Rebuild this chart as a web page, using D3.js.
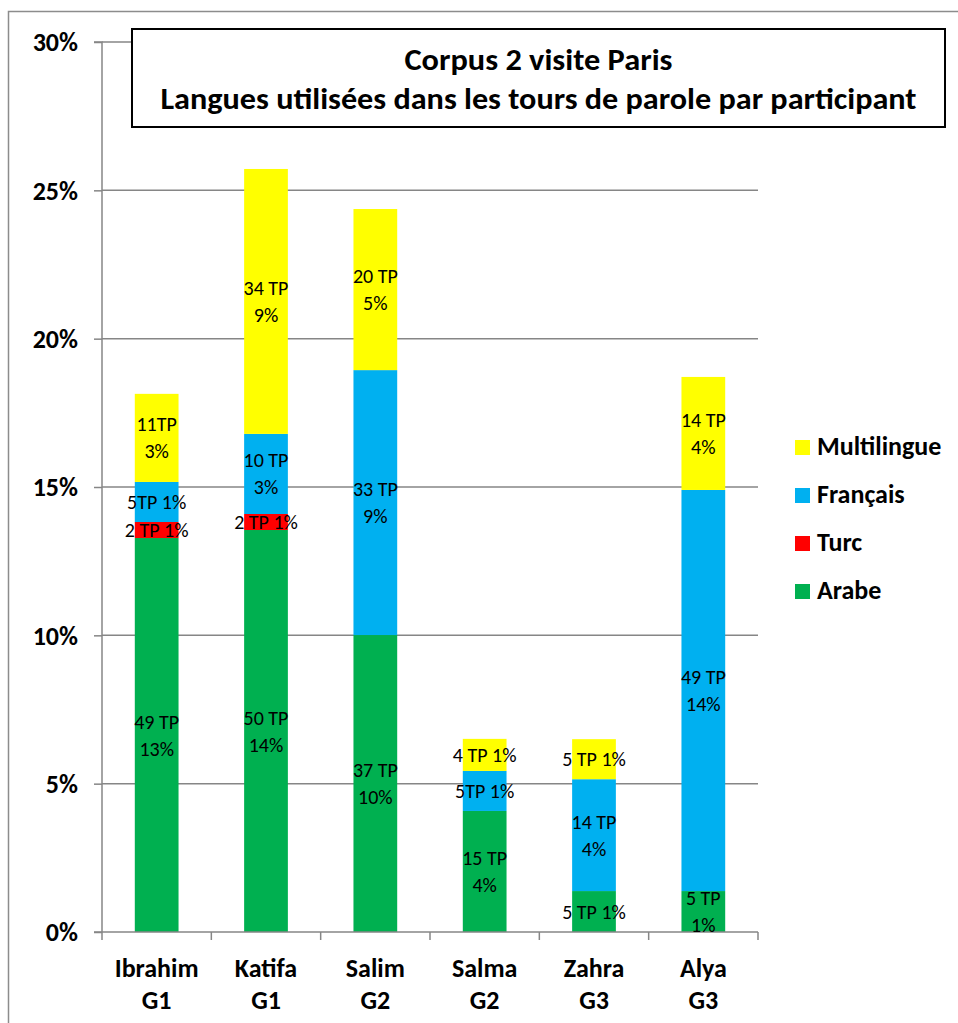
<!DOCTYPE html>
<html>
<head>
<meta charset="utf-8">
<script src="https://cdn.jsdelivr.net/npm/d3@7"></script>
<style>
  html, body { margin: 0; padding: 0; background: #fff; }
  svg { display: block; }
  text { font-family: Carlito, Calibri, "Liberation Sans", Arial, sans-serif; }
</style>
</head>
<body>
<svg id="chart" width="958" height="1023"></svg>
<script>
// Participants and their group, shown as two-line category labels
const participants = ["Ibrahim", "Katifa", "Salim", "Salma", "Zahra", "Alya"];
const groups = ["G1", "G1", "G2", "G2", "G3", "G3"];

// Share of the corpus' speaking turns (%), per language
const arabe       = [13.28, 13.55, 10.01, 4.08, 1.38, 1.38];
const turc        = [0.54, 0.54, 0, 0, 0, 0];
const francais    = [1.35, 2.70, 8.93, 1.35, 3.77, 13.52];
const multilingue = [2.97, 8.93, 5.43, 1.08, 1.35, 3.81];

// Segment labels (turn count and rounded share); "\n" splits a label over two lines
const arabeLabels       = ["49 TP\n13%", "50 TP\n14%", "37 TP\n10%", "15 TP\n4%", "5 TP 1%", "5 TP\n1%"];
const turcLabels        = ["2 TP 1%", "2 TP 1%", "", "", "", ""];
const francaisLabels    = ["5TP 1%", "10 TP\n3%", "33 TP\n9%", "5TP 1%", "14 TP\n4%", "49 TP\n14%"];
const multilingueLabels = ["11TP\n3%", "34 TP\n9%", "20 TP\n5%", "4 TP 1%", "5 TP 1%", "14 TP\n4%"];

const yTicks = [0, 5, 10, 15, 20, 25, 30];

const titleLines = ["Corpus 2 visite Paris", "Langues utilisées dans les tours de parole par participant"];

const series = [
  { key: "Arabe",       values: arabe,       labels: arabeLabels,       color: "#00B050" },
  { key: "Turc",        values: turc,        labels: turcLabels,        color: "#FF0000" },
  { key: "Français",    values: francais,    labels: francaisLabels,    color: "#00B0F0" },
  { key: "Multilingue", values: multilingue, labels: multilingueLabels, color: "#FFFF00" }
];

const rows = participants.map((p, i) => {
  const r = { name: p };
  series.forEach(s => { r[s.key] = s.values[i]; });
  return r;
});

const svg = d3.select("#chart");

// Outer chart frame
svg.append("rect")
  .attr("x", 8.5).attr("y", 11.5)
  .attr("width", 1000).attr("height", 1050)
  .attr("fill", "none").attr("stroke", "#8c8c8c").attr("stroke-width", 1.5);

const plot = { left: 102, right: 758, top: 42, bottom: 932 };

const x = d3.scaleBand().domain(participants).range([plot.left, plot.right]).padding(0);
const y = d3.scaleLinear().domain([0, 30]).range([plot.bottom, plot.top]);
const barW = x.bandwidth() * 0.4;

// Horizontal gridlines
svg.append("g")
  .selectAll("line")
  .data(yTicks.filter(t => t > 0))
  .join("line")
  .attr("x1", plot.left).attr("x2", plot.right)
  .attr("y1", d => y(d)).attr("y2", d => y(d))
  .attr("stroke", "#868686").attr("stroke-width", 1.5);

// Stacked bars
const stacked = d3.stack().keys(series.map(s => s.key))(rows);

const layers = svg.append("g")
  .selectAll("g")
  .data(stacked)
  .join("g")
  .attr("fill", (d, i) => series[i].color);

layers.selectAll("rect")
  .data(d => d)
  .join("rect")
  .attr("x", d => x(d.data.name) + (x.bandwidth() - barW) / 2)
  .attr("width", barW)
  .attr("y", d => y(d[1]))
  .attr("height", d => y(d[0]) - y(d[1]));

// Y axis
const yAxis = d3.axisLeft(y).tickValues(yTicks).tickFormat(d => d + "%").tickSize(8).tickPadding(16);
const gy = svg.append("g").attr("transform", `translate(${plot.left},0)`).call(yAxis);
gy.select(".domain").attr("stroke", "#868686").attr("stroke-width", 1.5).attr("d", `M-8,${plot.top}H0V${plot.bottom}`);
gy.selectAll(".tick line").attr("stroke", "#868686").attr("stroke-width", 1.5);
gy.selectAll(".tick text")
  .attr("fill", "#000")
  .style("font-family", "Carlito, Calibri, 'Liberation Sans', Arial, sans-serif")
  .style("font-size", "26px").style("font-weight", "bold")
  .attr("dy", "0.34em");

// X axis with tick marks at the category boundaries
const gx = svg.append("g").attr("transform", `translate(0,${plot.bottom})`);
gx.append("line")
  .attr("x1", plot.left - 8).attr("x2", plot.right)
  .attr("y1", 0).attr("y2", 0)
  .attr("stroke", "#868686").attr("stroke-width", 1.5);
gx.selectAll("line.tk")
  .data(d3.range(participants.length + 1))
  .join("line").attr("class", "tk")
  .attr("x1", i => plot.left + i * x.step()).attr("x2", i => plot.left + i * x.step())
  .attr("y1", 0).attr("y2", 8)
  .attr("stroke", "#868686").attr("stroke-width", 1.5);

const xl = gx.selectAll("text.cat")
  .data(participants)
  .join("text").attr("class", "cat")
  .attr("x", d => x(d) + x.bandwidth() / 2)
  .attr("text-anchor", "middle")
  .style("font-size", "26px").style("font-weight", "bold");
xl.append("tspan").attr("x", d => x(d) + x.bandwidth() / 2).attr("y", 45).text(d => d);
xl.append("tspan").attr("x", d => x(d) + x.bandwidth() / 2).attr("y", 77).text((d, i) => groups[i]);

// Segment labels
const labelG = svg.append("g").style("font-size", "20px").attr("fill", "#000");
stacked.forEach((layer, si) => {
  layer.forEach((d, i) => {
    const txt = series[si].labels[i];
    if (!txt) return;
    const lines = txt.split("\n");
    const cx = x(d.data.name) + x.bandwidth() / 2;
    const cy = (y(d[0]) + y(d[1])) / 2;
    const lh = 27;
    const t = labelG.append("text").attr("text-anchor", "middle");
    lines.forEach((ln, k) => {
      t.append("tspan")
        .attr("x", cx)
        .attr("y", cy + (k - (lines.length - 1) / 2) * lh)
        .attr("dy", "0.35em")
        .text(ln);
    });
  });
});

// Title box
svg.append("rect")
  .attr("x", 132).attr("y", 29)
  .attr("width", 813).attr("height", 98)
  .attr("fill", "#fff").attr("stroke", "#000").attr("stroke-width", 2);

const titleWidths = [268, 756];
const titleBase = [70, 109];
titleLines.forEach((ln, i) => {
  svg.append("text")
    .attr("x", 538.5).attr("y", titleBase[i])
    .attr("text-anchor", "middle")
    .attr("textLength", titleWidths[i])
    .attr("lengthAdjust", "spacingAndGlyphs")
    .style("font-size", "30px").style("font-weight", "bold")
    .text(ln);
});

// Legend, top entry first
const legendItems = series.slice().reverse();
const lg = svg.append("g").attr("transform", "translate(795,440)");
const li = lg.selectAll("g").data(legendItems).join("g")
  .attr("transform", (d, i) => `translate(0,${i * 48})`);
li.append("rect").attr("width", 15).attr("height", 15).attr("fill", d => d.color);
li.append("text")
  .attr("x", 22).attr("y", 15)
  .style("font-size", "26px").style("font-weight", "bold")
  .text(d => d.key);
</script>
</body>
</html>
